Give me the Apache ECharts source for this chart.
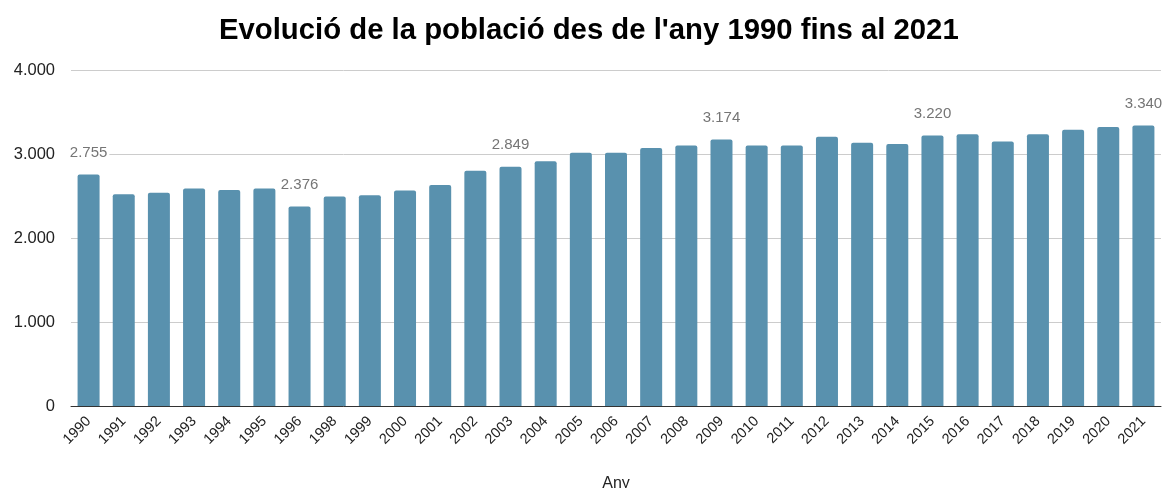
<!DOCTYPE html>
<html>
<head>
<meta charset="utf-8">
<script src="https://cdn.jsdelivr.net/npm/echarts@6/dist/echarts.min.js"></script>
<style>
  html, body { margin: 0; padding: 0; background: #fff; }
  #chart { width: 1163px; height: 488px; }
</style>
</head>
<body>
<div id="chart"></div>
<script>
// anys (1997 no hi és)
const years = ['1990', '1991', '1992', '1993', '1994', '1995', '1996', '1998', '1999', '2000',
  '2001', '2002', '2003', '2004', '2005', '2006', '2007', '2008', '2009', '2010',
  '2011', '2012', '2013', '2014', '2015', '2016', '2017', '2018', '2019', '2020', '2021'];
const population = [2755, 2520, 2540, 2590, 2570, 2590, 2376, 2495, 2510, 2565,
  2630, 2800, 2849, 2915, 3015, 3015, 3070, 3100, 3174, 3100,
  3100, 3205, 3135, 3120, 3220, 3235, 3150, 3235, 3290, 3320, 3340];
// only these get a value label
const labelled = [0, 6, 12, 18, 24, 30];
const yTicks = [0, 1000, 2000, 3000, 4000];

function fmt(v) {
  return String(v).replace(/\B(?=(\d{3})+(?!\d))/g, '.');
}

const chart = echarts.init(document.getElementById('chart'));
chart.setOption({
  animation: false,
  title: {
    text: "Evolució de la població des de l'any 1990 fins al 2021",
    left: 214,
    top: 11,
    textStyle: { fontFamily: 'Liberation Sans, Arial', fontSize: 29.3, fontWeight: 'bold', color: '#000' }
  },
  grid: { left: 71, right: 2, top: 70, bottom: 82, outerBoundsMode: 'none' },
  xAxis: {
    type: 'category',
    data: years,
    name: 'Any',
    nameLocation: 'middle',
    nameGap: 70,
    nameTextStyle: { fontFamily: 'Liberation Sans, Arial', fontSize: 16, color: '#222' },
    axisLine: { lineStyle: { color: '#333', width: 1 } },
    axisTick: { show: false },
    axisLabel: {
      interval: 0, rotate: 45, margin: 13,
      fontFamily: 'Liberation Sans, Arial', fontSize: 14.5, color: '#222'
    }
  },
  yAxis: {
    type: 'value',
    min: yTicks[0],
    max: yTicks[yTicks.length - 1],
    interval: 1000,
    axisLine: { show: false },
    axisTick: { show: false },
    splitLine: { lineStyle: { color: '#ccc' } },
    axisLabel: {
      margin: 16,
      fontFamily: 'Liberation Sans, Arial', fontSize: 16.5, color: '#222',
      formatter: fmt
    }
  },
  series: [{
    type: 'bar',
    data: population.map((v, i) => ({
      value: v,
      label: { show: labelled.indexOf(i) >= 0 }
    })),
    barWidth: 22,
    itemStyle: { color: '#5991ae', borderRadius: [2, 2, 0, 0] },
    label: {
      position: 'top',
      distance: 14,
      fontFamily: 'Liberation Sans, Arial',
      fontSize: 15,
      color: '#757575',
      backgroundColor: '#fff',
      padding: [0, 2],
      formatter: p => fmt(p.value)
    }
  }]
});
</script>
</body>
</html>
